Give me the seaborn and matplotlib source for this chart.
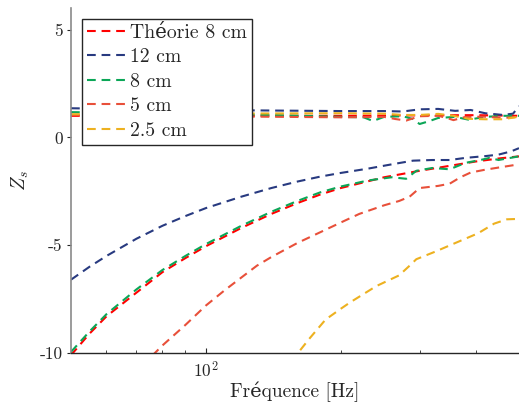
import numpy as np
import pandas as pd
import matplotlib
matplotlib.use("Agg")
import matplotlib.pyplot as plt
import seaborn as sns

names = ['Théorie 8 cm', '12 cm', '8 cm', '5 cm', '2.5 cm']
colors = ['#FF0000', '#283A80', '#0BA657', '#E8503A', '#EDB120']

# real parts
f_re_theo = [50, 100, 200, 300, 400, 500]
re_theo = [1.0, 1.0, 1.0, 1.02, 1.03, 1.0]
f_re_12 = [50, 100, 150, 200, 250, 275, 300, 330, 360, 390, 420, 460, 485, 500]
re_12 = [1.35, 1.27, 1.24, 1.22, 1.22, 1.2, 1.3, 1.32, 1.23, 1.27, 1.12, 1.04, 1.1, 1.45]
f_re_8 = [50, 100, 150, 200, 225, 236, 250, 275, 290, 300, 315, 330, 360, 386, 420, 460, 500]
re_8 = [1.17, 1.1, 1.02, 0.95, 0.93, 0.76, 0.95, 0.98, 0.85, 0.62, 0.75, 0.9, 0.95, 0.82, 0.95, 1.0, 1.0]
f_re_5 = [50, 100, 200, 250, 265, 280, 300, 330, 345, 357, 380, 420, 460, 500]
re_5 = [1.05, 0.98, 0.93, 0.95, 0.85, 0.78, 0.98, 1.0, 0.9, 0.8, 0.95, 0.96, 0.9, 0.95]
f_re_25 = [50, 100, 200, 250, 275, 300, 330, 357, 386, 420, 460, 500]
re_25 = [1.07, 1.1, 1.12, 1.1, 1.04, 1.04, 1.09, 1.0, 0.86, 0.84, 0.84, 0.96]

# imaginary parts
f_im_theo = [50, 55, 60, 70, 80, 90, 100, 120, 140, 160, 180, 200, 250, 300, 350, 400, 450, 500]
im_theo = [-10.1, -9.1, -8.3, -7.2, -6.25, -5.6, -5.05, -4.2, -3.55, -3.05, -2.65, -2.35,
           -1.85, -1.55, -1.32, -1.12, -0.98, -0.88]
f_im_12 = [50, 55, 60, 70, 80, 90, 100, 120, 140, 160, 180, 200, 230, 260, 290, 320, 350,
           380, 420, 450, 480, 500]
im_12 = [-6.6, -6.0, -5.5, -4.7, -4.1, -3.65, -3.28, -2.75, -2.35, -2.05, -1.82, -1.65,
         -1.45, -1.25, -1.08, -1.05, -1.05, -0.95, -0.87, -0.8, -0.65, -0.5]
f_im_8 = [50, 55, 60, 70, 80, 90, 100, 120, 140, 160, 180, 200, 230, 260, 280, 295, 320,
          350, 380, 410, 430, 450, 500]
im_8 = [-9.95, -9.0, -8.2, -7.05, -6.15, -5.5, -4.95, -4.1, -3.45, -2.95, -2.55, -2.28,
        -2.0, -1.85, -1.92, -1.55, -1.42, -1.48, -1.18, -1.05, -0.95, -1.05, -0.88]
f_im_5 = [72, 80, 90, 100, 110, 120, 130, 140, 160, 180, 200, 220, 250, 270, 285, 300,
          330, 350, 370, 390, 420, 450, 500]
im_5 = [-10.6, -9.65, -8.7, -7.8, -7.1, -6.5, -5.95, -5.55, -4.9, -4.4, -3.95, -3.55,
        -3.15, -2.95, -2.75, -2.35, -2.25, -2.15, -1.85, -1.63, -1.5, -1.4, -1.25]
f_im_25 = [155, 170, 185, 200, 210, 240, 270, 285, 295, 325, 365, 405, 440, 470, 500]
im_25 = [-10.4, -9.35, -8.45, -7.95, -7.65, -6.9, -6.4, -5.95, -5.65, -5.3, -4.85, -4.45,
         -4.0, -3.8, -3.78]

series = [
    (f_re_theo, re_theo, f_im_theo, im_theo),
    (f_re_12, re_12, f_im_12, im_12),
    (f_re_8, re_8, f_im_8, im_8),
    (f_re_5, re_5, f_im_5, im_5),
    (f_re_25, re_25, f_im_25, im_25),
]

sns.set_style('ticks')
plt.rcParams['font.family'] = ['cmr10', 'DejaVu Serif']
plt.rcParams['mathtext.fontset'] = 'cm'
plt.rcParams['axes.unicode_minus'] = False
plt.rcParams['axes.formatter.use_mathtext'] = True

fig = plt.figure(figsize=(5.19, 4.08), dpi=100)
ax = fig.add_axes([0.1368, 0.1348, 0.8632, 0.8456])

dash = (0, (4.2, 2.8))
handles = []
for name, c, (fr, re, fi, im) in zip(names, colors, series):
    sns.lineplot(x=fr, y=re, ax=ax, color=c, lw=1.5, linestyle=dash)
    sns.lineplot(x=fi, y=im, ax=ax, color=c, lw=1.5, linestyle=dash)
    handles.append(ax.lines[-1])

ax.set_xscale('log')
ax.set_xlim(50, 500)
ax.set_ylim(-10, 6)
ax.set_yticks([-10, -5, 0, 5])
ax.set_yticklabels(['-10', '-5', '0', '5'])

for s in ['top', 'right']:
    ax.spines[s].set_visible(False)
ax.spines['left'].set_color('#8a8a8a')
ax.spines['left'].set_linewidth(1.2)
ax.spines['bottom'].set_color('#262626')
ax.spines['bottom'].set_linewidth(1.0)

ax.tick_params(axis='y', direction='out', length=3, width=0.8, pad=3,
               labelsize=12.5, colors='#262626')
ax.tick_params(axis='x', which='major', direction='in', length=3.5, width=0.8, pad=5,
               labelsize=12.5, colors='#262626')
ax.tick_params(axis='x', which='minor', direction='in', length=2.5, width=0.6,
               colors='#262626')
ax.xaxis.set_minor_formatter(matplotlib.ticker.NullFormatter())

ax.set_xlabel('Fréquence [Hz]', fontsize=14, color='#262626', labelpad=1)
ax.set_ylabel(r'$Z_s$', fontsize=14, color='#262626', labelpad=6)

leg = ax.legend(handles, names, loc='upper left', bbox_to_anchor=(0.0246, 0.968),
                borderaxespad=0, fontsize=14.2, frameon=True, fancybox=False,
                handlelength=2.0, handletextpad=0.2, labelspacing=0.33,
                borderpad=0.25)
leg.get_frame().set_edgecolor('#262626')
leg.get_frame().set_linewidth(1.0)
leg.get_frame().set_alpha(1)

fig.savefig('out.png', dpi=100)
